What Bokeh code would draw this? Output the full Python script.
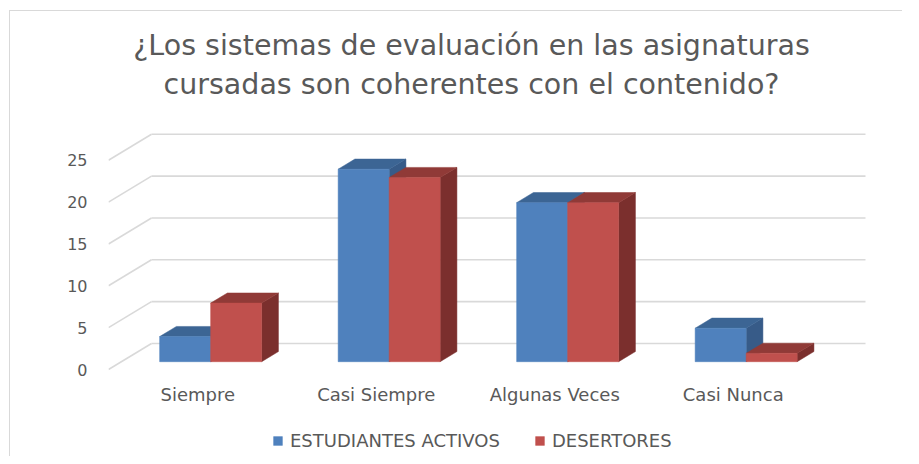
from bokeh.plotting import figure
from bokeh.models import (Range1d, FixedTicker, Legend, LegendItem, Label, ColumnDataSource)
from bokeh.core.properties import value
from bokeh.embed import file_html
from bokeh.resources import INLINE

# ---- data ----
categories = ["Siempre", "Casi Siempre", "Algunas Veces", "Casi Nunca"]
activos = [3, 23, 19, 4]
desertores = [7, 22, 19, 1]
series_names = ["ESTUDIANTES ACTIVOS", "DESERTORES"]
y_ticks = [0, 5, 10, 15, 20, 25]
title_lines = ["¿Los sistemas de evaluación en las asignaturas",
               "cursadas son coherentes con el contenido?"]

# ---- styling / geometry ----
FONT = "DejaVu Sans"
TEXT_COLOR = "#595959"
GRID_COLOR = "#D9D9D9"
front_colors = ["#4F81BD", "#C0504D"]
top_colors = ["#3C6594", "#903A37"]
side_colors = ["#375B88", "#7B2F2D"]

CAT_PX = 178.5     # pixels per category on front plane
UNIT_PX = 8.37     # pixels per value unit
DX = 43 / CAT_PX   # full depth offset in x data units
DY = 26 / UNIT_PX  # full depth offset in y data units
GAP = 0.75 / 3.5   # 150% gap width
BW = 1 / 3.5       # bar width in category units
D1, D2 = 0.30, 0.69  # bar depth span (fraction of wall depth)

W, H = 893, 446
frame_left, frame_right = 98, 870     # canvas px
ZERO_Y = 358                          # canvas px of value 0 on front plane

def y_at(py):
    """data y for a canvas pixel row"""
    return (ZERO_Y - py) / UNIT_PX

def x_at(px):
    return (px - frame_left) / CAT_PX

p = figure(width=W, height=H, output_backend="svg", toolbar_location=None,
           x_range=Range1d(0, x_at(frame_right)), y_range=Range1d(y_at(H), y_at(0)),
           min_border_left=frame_left, min_border_right=W - frame_right,
           min_border_top=0, min_border_bottom=0,
           background_fill_color="white", border_fill_color="white",
           outline_line_color=None,
           styles={"margin-left": "9px", "margin-top": "10px",
                   "border-left": "1px solid #D9D9D9",
                   "border-top": "1px solid #D9D9D9"})
p.xgrid.visible = False
p.ygrid.visible = False
p.xaxis.visible = False

# ---- back wall grid and side diagonals ----
n = len(categories)
p.segment(x0=[DX] * len(y_ticks), y0=[v + DY for v in y_ticks],
          x1=[n + DX] * len(y_ticks), y1=[v + DY for v in y_ticks],
          line_color=GRID_COLOR, line_width=1.6)
p.segment(x0=[0] * len(y_ticks), y0=y_ticks,
          x1=[DX] * len(y_ticks), y1=[v + DY for v in y_ticks],
          line_color=GRID_COLOR, line_width=1.6)

# ---- 3D bars ----
front_renderers = []
for s, vals in enumerate([activos, desertores]):
    xl = [i + GAP + s * BW + D1 * DX for i in range(n)]
    xr = [x + BW for x in xl]
    bot = [D1 * DY] * n
    top = [v + D1 * DY for v in vals]
    ddx = (D2 - D1) * DX
    ddy = (D2 - D1) * DY
    p.patches(xs=[[r, r, r + ddx, r + ddx] for r in xr],
              ys=[[b, t, t + ddy, b + ddy] for b, t in zip(bot, top)],
              fill_color=side_colors[s], line_color=side_colors[s], line_width=0.5)
    p.patches(xs=[[l, r, r + ddx, l + ddx] for l, r in zip(xl, xr)],
              ys=[[t, t, t + ddy, t + ddy] for t in top],
              fill_color=top_colors[s], line_color=top_colors[s], line_width=0.5)
    r = p.quad(left=xl, right=xr, bottom=bot, top=top,
               fill_color=front_colors[s], line_color=front_colors[s], line_width=0.5)
    front_renderers.append(r)

# ---- y axis ----
p.yaxis.ticker = FixedTicker(ticks=y_ticks)
p.yaxis.axis_line_color = None
p.yaxis.major_tick_line_color = None
p.yaxis.minor_tick_line_color = None
p.yaxis.major_tick_out = 0
p.yaxis.major_label_standoff = 21
p.yaxis.major_label_text_font = FONT
p.yaxis.major_label_text_font_size = "16px"
p.yaxis.major_label_text_color = TEXT_COLOR

# ---- category labels (front plane, under each category) ----
cat_src = ColumnDataSource(dict(x=[i + 0.5 for i in range(n)],
                                y=[y_at(383)] * n, text=categories))
p.text(x="x", y="y", text="text", source=cat_src,
       text_align="center", text_baseline="middle",
       text_font=value(FONT), text_font_size="18px", text_color=TEXT_COLOR)

# ---- title (two lines) ----
for line, py in zip(title_lines, [34, 73]):
    p.add_layout(Label(x=x_at(461), y=y_at(py), text=line,
                       text_align="center", text_baseline="middle",
                       text_font=FONT, text_font_size="28.5px",
                       text_color=TEXT_COLOR))

# ---- legend ----
legend = Legend(items=[LegendItem(label=nm, renderers=[rr])
                       for nm, rr in zip(series_names, front_renderers)],
                orientation="horizontal", location=(164, 6),
                label_text_font=FONT, label_text_font_size="18px",
                label_text_color=TEXT_COLOR, glyph_width=11, glyph_height=11,
                spacing=34, padding=0, margin=0, label_standoff=7,
                border_line_color=None, background_fill_alpha=0)
p.add_layout(legend, "center")

open("out.html", "w").write(file_html(p, INLINE))
